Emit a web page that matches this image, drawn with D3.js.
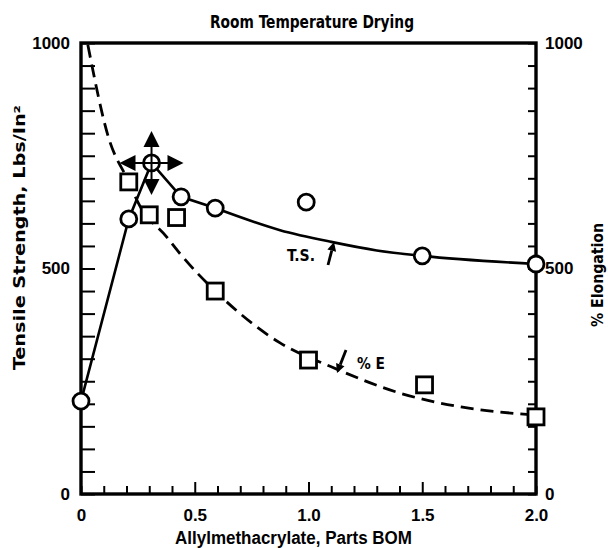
<!DOCTYPE html>
<html><head><meta charset="utf-8">
<script src="https://cdn.jsdelivr.net/npm/d3@7"></script>
<style>
body{margin:0;background:#fff}
text{fill:#000}
.cond{font-family:"Liberation Sans Narrow","DejaVu Sans Condensed","Roboto Condensed","Liberation Sans",Arial,sans-serif;font-weight:bold;font-stretch:condensed}
.reg{font-family:"Liberation Sans",Arial,sans-serif;font-weight:bold}
</style>
</head><body><svg id="c" width="608" height="548"></svg>
<script>
// ---- data ----
const tsX = [0, 0.21, 0.31, 0.44, 0.59, 0.99, 1.5, 2.0];
const tsY = [206, 610, 734, 659, 634, 647, 528, 510];
const elX = [0.21, 0.30, 0.42, 0.59, 1.0, 1.51, 2.0];
const elY = [692, 619, 613, 450, 297, 242, 171];
// solid T.S. line: straight segments then a smooth fitted curve
const tsSegX = [0, 0.21, 0.31, 0.44, 0.59];
const tsSegY = [206, 610, 734, 659, 634];
const tsCurveX = [0.59, 0.875, 1.1, 1.3, 1.5, 2.0];
const tsCurveY = [634, 585, 559, 540, 528, 510];
// dashed %E curve
const elCurveX = [0.03, 0.12, 0.21, 0.25, 0.38, 0.44, 0.59, 0.875, 1.1, 1.4, 1.67, 2.0];
const elCurveY = [996, 792, 692, 647, 568, 530, 450, 335, 282, 224, 193, 175];
const xTickLabels = ["0", "0.5", "1.0", "1.5", "2.0"];
const xTickValues = [0, 0.5, 1.0, 1.5, 2.0];
const yTickLabels = ["0", "500", "1000"];
const yTickValues = [0, 500, 1000];
const title = "Room Temperature Drying";
const xTitle = "Allylmethacrylate, Parts BOM";
const yTitle = "Tensile Strength, Lbs/In²";
const y2Title = "% Elongation";

// ---- drawing ----
const svg = d3.select("#c");
const x = d3.scaleLinear().domain([0, 2]).range([81, 536]);
const y = d3.scaleLinear().domain([0, 1000]).range([494, 43]);

const yMinor = d3.range(0, 1001, 50);
const xMinor = d3.range(0, 21).map(i => i / 10);

const gl = svg.append("g").attr("transform", `translate(${x(0)},0)`)
  .call(d3.axisLeft(y).tickValues(yMinor).tickSizeInner(-14).tickSizeOuter(0).tickFormat(""));
const gr = svg.append("g").attr("transform", `translate(${x(2)},0)`)
  .call(d3.axisRight(y).tickValues(yMinor).tickSizeInner(-8).tickSizeOuter(0).tickFormat(""));
const gb = svg.append("g").attr("transform", `translate(0,${y(0)})`)
  .call(d3.axisBottom(x).tickValues(xMinor).tickSizeInner(-8).tickSizeOuter(0).tickFormat(""));
gb.selectAll(".tick line").attr("y2", d => (Math.abs(d * 2 - Math.round(d * 2)) < 1e-6 && d > 0 && d < 2) ? -12 : -8);
[gl, gr, gb].forEach(g => {
  g.selectAll(".domain").remove();
  g.selectAll(".tick line").attr("stroke", "#000").attr("stroke-width", 2);
});

// frame
svg.append("rect").attr("x", x(0)).attr("y", y(1000))
  .attr("width", x(2) - x(0)).attr("height", y(0) - y(1000))
  .attr("fill", "none").attr("stroke", "#000").attr("stroke-width", 3.4);

// tick labels
const lblL = svg.append("g").attr("transform", `translate(${x(0)},0)`)
  .call(d3.axisLeft(y).tickValues(yTickValues).tickSize(0).tickPadding(11).tickFormat((d, i) => yTickLabels[i]));
const lblR = svg.append("g").attr("transform", `translate(${x(2)},0)`)
  .call(d3.axisRight(y).tickValues(yTickValues).tickSize(0).tickPadding(9).tickFormat((d, i) => yTickLabels[i]));
const lblB = svg.append("g").attr("transform", `translate(0,${y(0)})`)
  .call(d3.axisBottom(x).tickValues(xTickValues).tickSize(0).tickPadding(15).tickFormat((d, i) => xTickLabels[i]));
[lblL, lblR, lblB].forEach(g => {
  g.selectAll(".domain").remove();
  g.selectAll("text").attr("class", "reg").style("font-size", "17px").attr("fill", "#000");
});

// lines
const lineLin = d3.line().x(d => x(d[0])).y(d => y(d[1]));
const lineCurve = d3.line().x(d => x(d[0])).y(d => y(d[1])).curve(d3.curveMonotoneX);
svg.append("path").attr("d", lineLin(tsSegX.map((v, i) => [v, tsSegY[i]])))
  .attr("fill", "none").attr("stroke", "#000").attr("stroke-width", 2.6);
svg.append("path").attr("d", lineCurve(tsCurveX.map((v, i) => [v, tsCurveY[i]])))
  .attr("fill", "none").attr("stroke", "#000").attr("stroke-width", 2.6);
svg.append("path").attr("d", lineCurve(elCurveX.map((v, i) => [v, elCurveY[i]])))
  .attr("fill", "none").attr("stroke", "#000").attr("stroke-width", 2.8)
  .attr("stroke-dasharray", "13,7");

// squares (%E)
svg.append("g").selectAll("rect").data(elX.map((v, i) => [v, elY[i]])).join("rect")
  .attr("x", d => x(d[0]) - 8).attr("y", d => y(d[1]) - 8)
  .attr("width", 16).attr("height", 16)
  .attr("fill", "#fff").attr("stroke", "#000").attr("stroke-width", 2.8);

// circles (T.S.)
svg.append("g").selectAll("circle").data(tsX.map((v, i) => [v, tsY[i]])).join("circle")
  .attr("cx", d => x(d[0])).attr("cy", d => y(d[1])).attr("r", 8)
  .attr("fill", "#fff").attr("stroke", "#000").attr("stroke-width", 2.8);

// peak cross with arrows
const peakI = tsY.indexOf(d3.max(tsY));
const px = x(tsX[peakI]), py = y(tsY[peakI]);
const cross = svg.append("g");
cross.append("line").attr("x1", px - 18).attr("x2", px + 18).attr("y1", py).attr("y2", py).attr("stroke", "#000").attr("stroke-width", 2);
cross.append("line").attr("x1", px).attr("x2", px).attr("y1", py - 18).attr("y2", py + 18).attr("stroke", "#000").attr("stroke-width", 2);
const tri = (dx, dy) => {
  const b = 16, t = 32, h = 8;
  const bx = px + dx * b, by = py + dy * b, tx = px + dx * t, ty = py + dy * t;
  const nx = -dy, ny = dx;
  return `M${tx},${ty}L${bx + nx * h},${by + ny * h}L${bx - nx * h},${by - ny * h}Z`;
};
[[0, -1], [0, 1], [-1, 0], [1, 0]].forEach(([dx, dy]) =>
  cross.append("path").attr("d", tri(dx, dy)).attr("fill", "#000"));

// label arrows
function arrow(X1, Y1, X2, Y2) {
  const a = Math.atan2(Y2 - Y1, X2 - X1);
  const L = 9, W = 4.5;
  const bx = X2 - L * Math.cos(a), by = Y2 - L * Math.sin(a);
  svg.append("line").attr("x1", X1).attr("y1", Y1).attr("x2", bx).attr("y2", by)
    .attr("stroke", "#000").attr("stroke-width", 2.8);
  svg.append("path").attr("d",
    `M${X2},${Y2}L${bx - W * Math.sin(a)},${by + W * Math.cos(a)}L${bx + W * Math.sin(a)},${by - W * Math.cos(a)}Z`)
    .attr("fill", "#000");
}
arrow(328, 265, 334, 242);
arrow(346, 350, 337, 373);

svg.append("text").attr("class", "cond").attr("x", 301).attr("y", 255)
  .attr("text-anchor", "middle").attr("dominant-baseline", "central").style("font-size", "16px")
  .attr("textLength", 28).attr("lengthAdjust", "spacingAndGlyphs").text("T.S.");
svg.append("text").attr("class", "cond").attr("x", 371).attr("y", 363)
  .attr("text-anchor", "middle").attr("dominant-baseline", "central").style("font-size", "16px")
  .attr("textLength", 28).attr("lengthAdjust", "spacingAndGlyphs").text("% E");

// titles
svg.append("text").attr("class", "cond").attr("x", 210).attr("y", 28)
  .style("font-size", "17px").attr("textLength", 204).attr("lengthAdjust", "spacingAndGlyphs").text(title);
svg.append("text").attr("class", "reg").attr("x", 175).attr("y", 544)
  .style("font-size", "18px").attr("textLength", 237).attr("lengthAdjust", "spacingAndGlyphs").text(xTitle);
svg.append("text").attr("class", "cond")
  .attr("transform", `translate(19,370) rotate(-90)`)
  .attr("dominant-baseline", "central").style("font-size", "16px")
  .attr("textLength", 265).attr("lengthAdjust", "spacingAndGlyphs").text(yTitle);
svg.append("text").attr("class", "cond")
  .attr("transform", `translate(598,327) rotate(-90)`)
  .attr("dominant-baseline", "central").style("font-size", "15px")
  .attr("textLength", 104).attr("lengthAdjust", "spacingAndGlyphs").text(y2Title);
</script>
</body></html>
